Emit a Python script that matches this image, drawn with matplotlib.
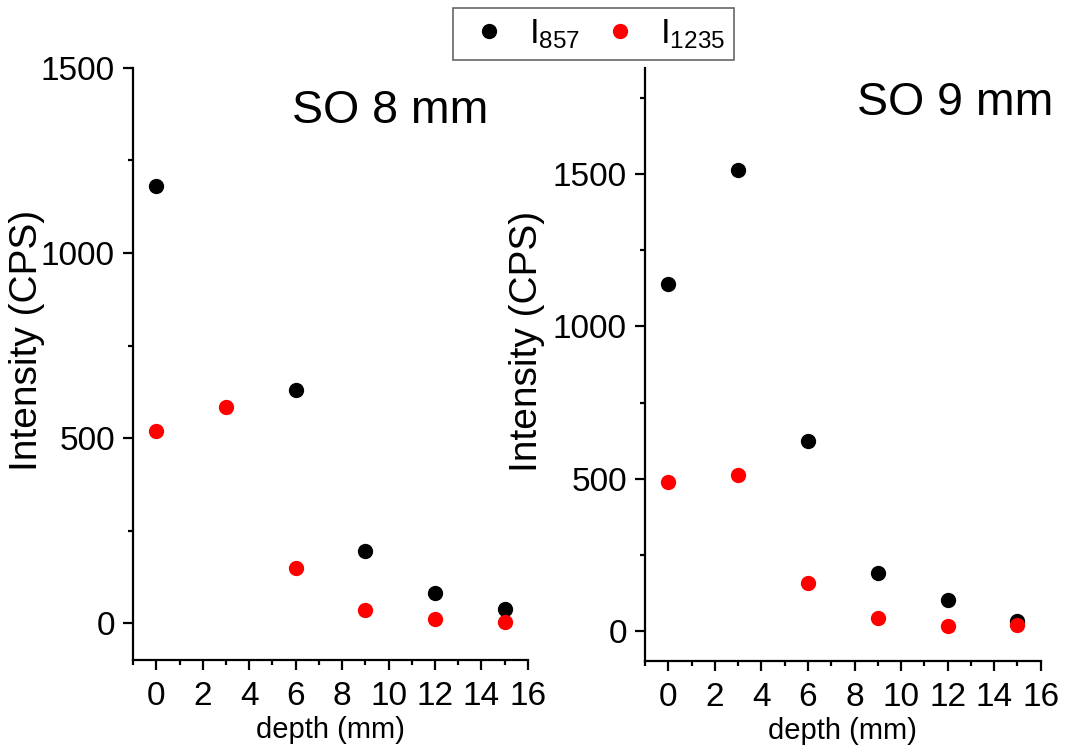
import matplotlib
matplotlib.use("Agg")
import matplotlib.pyplot as plt
from matplotlib.ticker import MultipleLocator
from matplotlib.lines import Line2D

plt.rcParams["font.family"] = ["Liberation Sans", "DejaVu Sans"]
plt.rcParams["mathtext.fontset"] = "custom"
plt.rcParams["mathtext.rm"] = "Liberation Sans"
plt.rcParams["mathtext.it"] = "Liberation Sans"

depth = [0, 3, 6, 9, 12, 15]

# SO 8 mm (no I857 value read at 3 mm)
so8_depth_857 = [0, 6, 9, 12, 15]
so8_i857 = [1180, 630, 195, 81, 38]
so8_i1235 = [518, 585, 149, 35, 12, 2]

# SO 9 mm
so9_i857 = [1141, 1513, 622, 191, 99, 33]
so9_i1235 = [490, 510, 158, 40, 16, 18]

titles = ["SO 8 mm", "SO 9 mm"]
ylims = [(-100, 1500), (-100, 1850)]


def style_axes(ax, ylim, title, title_pos, ylab_x):
    ax.set_xlim(-1, 16)
    ax.set_ylim(*ylim)
    ax.spines["top"].set_visible(False)
    ax.spines["right"].set_visible(False)
    for side in ("left", "bottom"):
        ax.spines[side].set_linewidth(1.6)
    ax.xaxis.set_major_locator(MultipleLocator(2))
    ax.xaxis.set_minor_locator(MultipleLocator(1))
    ax.yaxis.set_major_locator(MultipleLocator(500))
    ax.yaxis.set_minor_locator(MultipleLocator(250))
    ax.tick_params(which="major", direction="out", length=7, width=1.6, labelsize=24, pad=6)
    ax.tick_params(axis="x", which="major", pad=8)
    ax.tick_params(which="minor", direction="out", length=3.5, width=1.6)
    ax.set_xlabel("depth (mm)", fontsize=21)
    ax.xaxis.set_label_coords(0.5, -0.094)
    ax.set_ylabel("Intensity (CPS)", fontsize=28, va="center")
    ax.yaxis.set_label_coords(ylab_x, 0.539)
    ax.text(title_pos[0], title_pos[1], title, transform=ax.transAxes,
            fontsize=33.5, ha="center", va="baseline")


fig = plt.figure(figsize=(10.67, 7.52), dpi=100)
ax1 = fig.add_axes([0.1247, 0.1223, 0.3701, 0.7873])
ax2 = fig.add_axes([0.6045, 0.121, 0.3709, 0.7886])

ms = 10
ax1.plot(so8_depth_857, so8_i857, "o", color="black", ms=ms, zorder=3)
ax1.plot(depth, so8_i1235, "o", color="#ff0000", ms=ms, zorder=3)
ax2.plot(depth, so9_i857, "o", color="black", ms=ms, zorder=3)
ax2.plot(depth, so9_i1235, "o", color="#ff0000", ms=ms, zorder=3)

style_axes(ax1, ylims[0], titles[0], (0.651, 0.907), -0.268)
style_axes(ax2, ylims[1], titles[1], (0.785, 0.921), -0.298)

handles = [
    Line2D([], [], marker="o", ls="none", color="black", ms=ms),
    Line2D([], [], marker="o", ls="none", color="#ff0000", ms=ms),
]
labels = [r"I$_{857}$", r"I$_{1235}$"]
leg = fig.legend(handles, labels, loc="upper center", bbox_to_anchor=(0.5562, 0.989),
                 ncol=2, fontsize=25, frameon=True, fancybox=False,
                 handletextpad=0.35, columnspacing=0.35, borderpad=0.26,
                 handlelength=1.6, borderaxespad=0)
leg.get_frame().set_edgecolor("#404040")
leg.get_frame().set_linewidth(1.2)

fig.savefig("out.png", dpi=100)
